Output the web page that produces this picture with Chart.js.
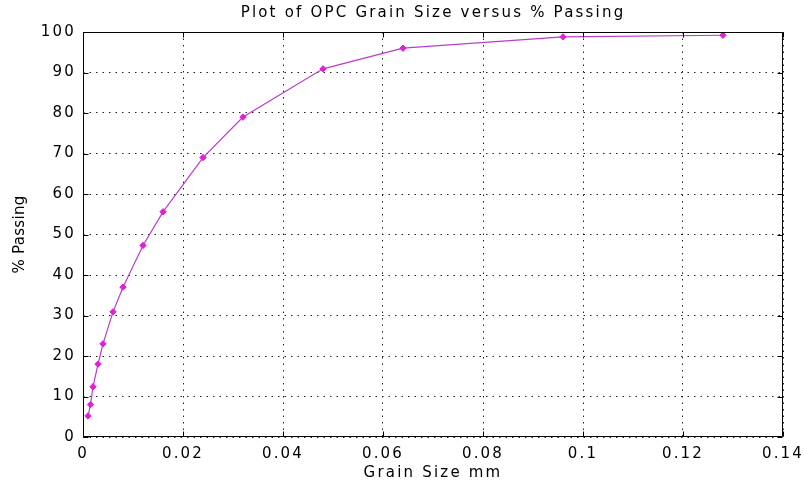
<!DOCTYPE html>
<html>
<head>
<meta charset="utf-8">
<script src="https://cdn.jsdelivr.net/npm/chart.js@4/dist/chart.umd.min.js"></script>
<style>
html,body{margin:0;padding:0;background:#fff;}
canvas{display:block;}
</style>
</head>
<body>
<canvas id="c" width="804" height="482"></canvas>
<script>
const grainSize = [0.001, 0.0015, 0.002, 0.003, 0.004, 0.006, 0.008, 0.012, 0.016, 0.024, 0.032, 0.048, 0.064, 0.096, 0.128];
const percentPassing = [5.2, 8.0, 12.4, 18.0, 23.0, 30.9, 37.0, 47.3, 55.6, 69.0, 79.0, 90.9, 96.0, 98.8, 99.2];
const xTicks = [0, 0.02, 0.04, 0.06, 0.08, 0.1, 0.12, 0.14];
const yTicks = [0, 10, 20, 30, 40, 50, 60, 70, 80, 90, 100];
const titleText = 'Plot of OPC Grain Size versus % Passing';
const xTitle = 'Grain Size mm';
const yTitle = '% Passing';

const FONT = 'DejaVu Sans';
const SPACING = '2.2px';

const spacingPlugin = {
  id: 'spacing',
  beforeUpdate(chart){ chart.ctx.letterSpacing = SPACING; },
  beforeDraw(chart){
    chart.ctx.letterSpacing = SPACING;
    const s = chart.scales.y;
    if (s && !s._patchedTitle) {
      const orig = s.drawTitle;
      s.drawTitle = function(){
        const c = this.ctx; const prev = c.letterSpacing;
        c.letterSpacing = '0.3px';
        orig.apply(this, arguments);
        c.letterSpacing = prev;
      };
      s._patchedTitle = true;
    }
  }
};

const boxPlugin = {
  id: 'box',
  afterDatasetsDraw(chart){
    const {ctx, chartArea:a, scales:{x, y}} = chart;
    ctx.save();
    ctx.strokeStyle = '#000';
    ctx.lineWidth = 1;
    ctx.setLineDash([]);
    ctx.beginPath();
    const L = Math.round(a.left)+0.5, R = Math.round(a.right)-0.5, T = Math.round(a.top)+0.5, B = Math.round(a.bottom)-0.5;
    ctx.rect(L, T, R-L, B-T);
    const tl = 5;
    xTicks.forEach(v => {
      const px = Math.round(x.getPixelForValue(v))+0.5;
      ctx.moveTo(px, B); ctx.lineTo(px, B-tl);
      ctx.moveTo(px, T); ctx.lineTo(px, T+tl);
    });
    yTicks.forEach(v => {
      const py = Math.round(y.getPixelForValue(v))+0.5;
      ctx.moveTo(L, py); ctx.lineTo(L+tl, py);
      ctx.moveTo(R, py); ctx.lineTo(R-tl, py);
    });
    ctx.stroke();
    ctx.restore();
  }
};

new Chart(document.getElementById('c'), {
  type: 'line',
  data: {
    datasets: [{
      data: grainSize.map((g, i) => ({x: g, y: percentPassing[i]})),
      borderColor: '#b83ec8',
      borderWidth: 1.2,
      pointStyle: 'rectRot',
      pointRadius: 3.2,
      pointBackgroundColor: '#e020d8',
      pointBorderColor: '#e020d8',
      pointBorderWidth: 1,
      tension: 0,
      fill: false
    }]
  },
  options: {
    responsive: false,
    animation: false,
    events: [],
    layout: { padding: { left: 0, right: 21, top: 0, bottom: 0 } },
    plugins: {
      legend: { display: false },
      tooltip: { enabled: false },
      title: {
        display: true,
        fullSize: false,
        text: titleText,
        color: '#000',
        font: { family: FONT, size: 15, weight: 'normal', lineHeight: 1.2 },
        padding: { top: 4, bottom: 10 }
      }
    },
    scales: {
      x: {
        type: 'linear',
        min: 0, max: 0.14,
        afterBuildTicks(s){ s.ticks = xTicks.map(v => ({value: v})); },
        afterFit(s){ s.height = 45; s.paddingLeft = 0; s.paddingRight = 0; },
        ticks: {
          color: '#000',
          font: { family: FONT, size: 15 },
          padding: 8,
          maxRotation: 0,
          autoSkip: false,
          callback: v => String(+v.toFixed(2))
        },
        grid: { color: '#222', lineWidth: 1, drawTicks: false },
        border: { display: false, dash: [1.5, 5] },
        title: {
          display: true, text: xTitle, color: '#000',
          font: { family: FONT, size: 15 },
          padding: { top: 0, bottom: 0 }
        }
      },
      y: {
        type: 'linear',
        min: 0, max: 100,
        afterBuildTicks(s){ s.ticks = yTicks.map(v => ({value: v})); },
        afterFit(s){ s.width = 83; s.paddingTop = 0; s.paddingBottom = 0; },
        ticks: {
          color: '#000',
          font: { family: FONT, size: 15 },
          padding: 7,
          autoSkip: false
        },
        grid: { color: '#222', lineWidth: 1, drawTicks: false },
        border: { display: false, dash: [1.5, 5] },
        title: {
          display: true, text: yTitle, color: '#000',
          font: { family: FONT, size: 15 },
          padding: { top: 11.5, bottom: 0 }
        }
      }
    }
  },
  plugins: [spacingPlugin, boxPlugin]
});
</script>
</body>
</html>
